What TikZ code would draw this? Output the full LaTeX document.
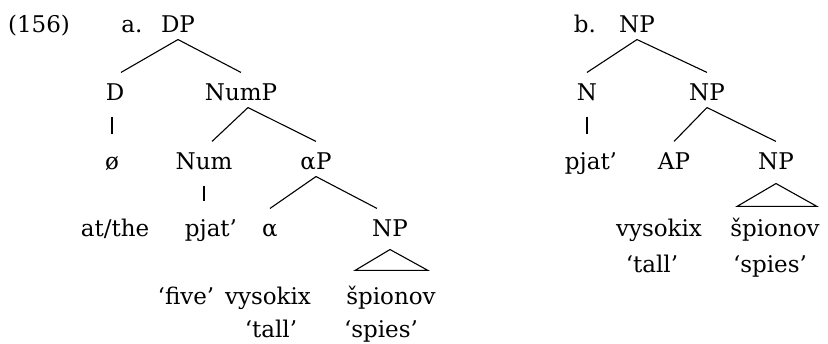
\documentclass[tikz,border=0pt]{standalone}
\usepackage{fontspec}
\setmainfont{DejaVu Serif}
\usepackage{tikz}

\begin{document}
\begin{tikzpicture}[x=1pt,y=1pt,line width=1.1pt,
                    font=\fontsize{23}{27}\selectfont]
  \tikzstyle{every node}=[anchor=base,inner sep=0pt,text height=28pt,text depth=6pt]
  \tikzstyle{stem}=[shorten <=9pt,shorten >=7pt]
  \useasboundingbox (0,0) rectangle (828,344);

  \node (ex)     at (39,311)  {(156)};

  % tree a
  \node (a)      at (132,311) {a.};
  \node (DP)     at (178,311) {DP};
  \node (D)      at (115,243) {D};
  \node (NumP)   at (241,243) {NumP};
  \node (null)   at (112,174) {ø};
  \node (Num)    at (204,174) {Num};
  \node (aP)     at (316,174) {αP};
  \node (the)    at (115,107) {at/the};
  \node (pjatA)  at (211,107) {pjat’};
  \node (alpha)  at (270,107) {α};
  \node (NPa)    at (390,107) {NP};
  \node (five)   at (186,39)  {‘five’};
  \node (vysA)   at (268,39)  {vysokix};
  \node (spA)    at (391,39)  {špionov};
  \node (tallA)  at (271,6)   {‘tall’};
  \node (spiesA) at (381,6)   {‘spies’};

  \draw (DP.south) -- ([xshift=6pt]D.north);
  \draw (DP.south) -- (NumP.north);
  \draw[stem] (null.north |- D.south) -- (null.north);
  \draw ([xshift=7pt]NumP.south) -- ([xshift=8pt]Num.north);
  \draw ([xshift=7pt]NumP.south) -- (aP.north);
  \draw[stem] (Num.south) -- (Num.south |- pjatA.north);
  \draw (aP.south) -- (alpha.north);
  \draw (aP.south) -- ([xshift=-13pt]NPa.north);
  \draw ([yshift=-6pt]NPa.south) -- ([shift={(-36pt,6pt)}]spA.north)
        -- ([shift={(37pt,6pt)}]spA.north) -- cycle;

  % tree b
  \node (b)      at (585,311) {b.};
  \node (NPb)    at (637,311) {NP};
  \node (N)      at (587,243) {N};
  \node (NPb2)   at (707,243) {NP};
  \node (pjatB)  at (591,174) {pjat’};
  \node (AP)     at (674,174) {AP};
  \node (NPb3)   at (776,174) {NP};
  \node (vysB)   at (659,107) {vysokix};
  \node (spB)    at (775,107) {špionov};
  \node (tallB)  at (652,71)  {‘tall’};
  \node (spiesB) at (770,71)  {‘spies’};

  \draw (NPb.south) -- (N.north);
  \draw (NPb.south) -- (NPb2.north);
  \draw[stem] (N.south) -- (N.south |- pjatB.north);
  \draw (NPb2.south) -- (AP.north);
  \draw (NPb2.south) -- (NPb3.north);
  \draw ([yshift=-7pt]NPb3.south) -- ([shift={(-38pt,2pt)}]spB.north)
        -- ([shift={(42pt,2pt)}]spB.north) -- cycle;
\end{tikzpicture}
\end{document}
